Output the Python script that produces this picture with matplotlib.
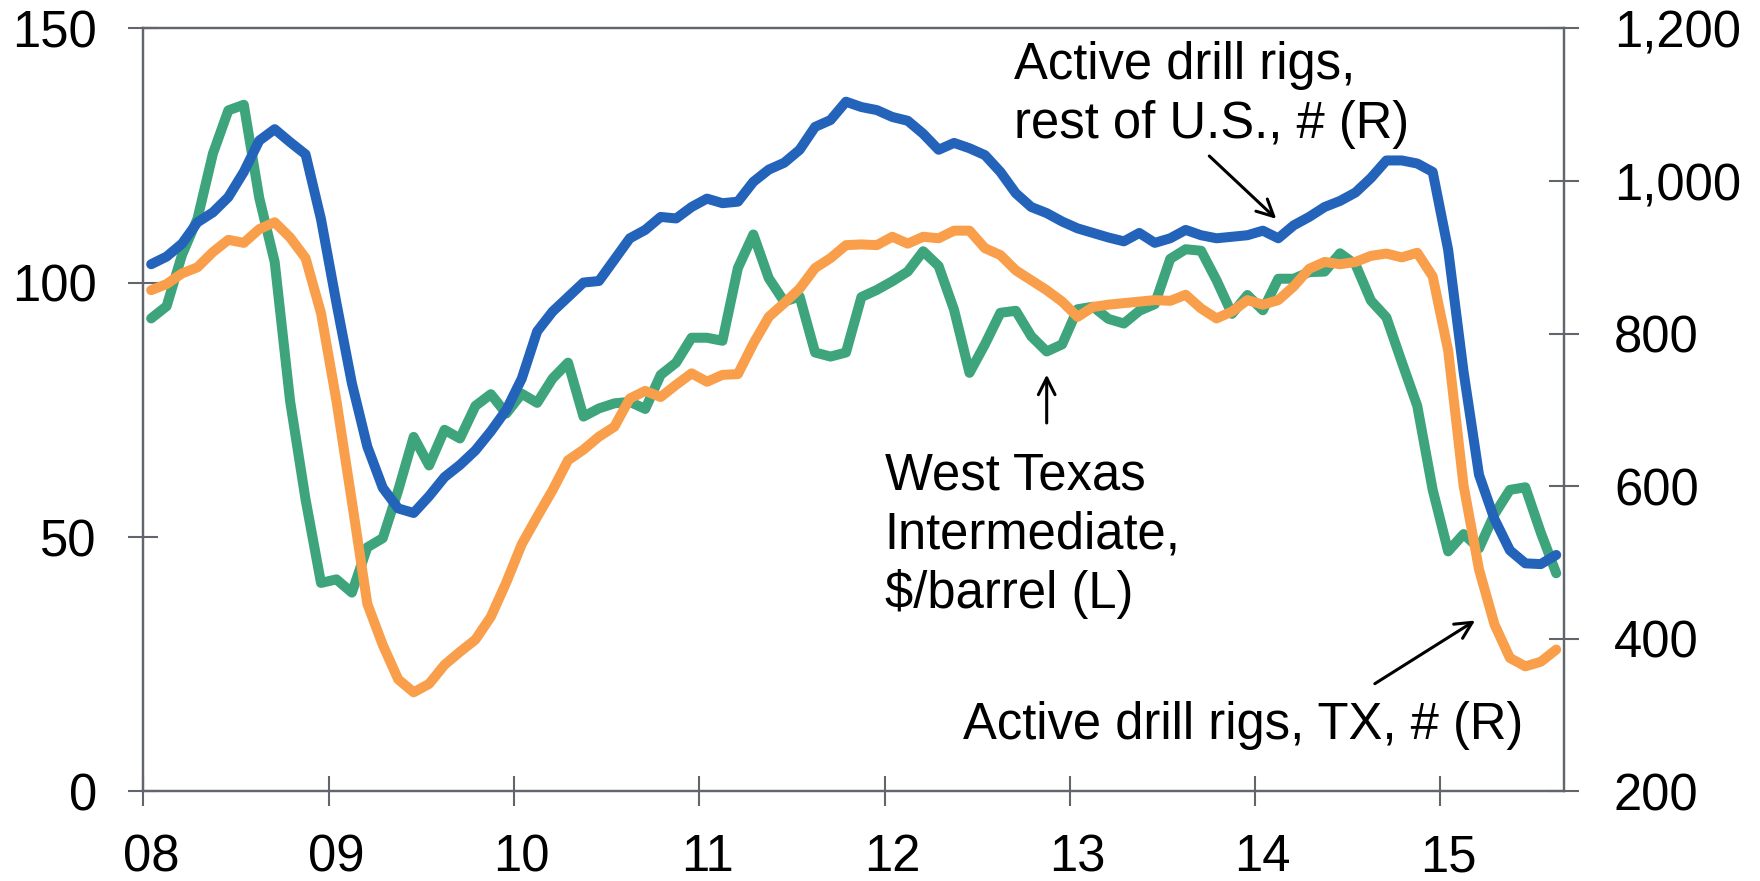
import matplotlib
matplotlib.use('Agg')
import matplotlib.pyplot as plt
from matplotlib.ticker import FuncFormatter
import numpy as np

plt.rcParams['font.family'] = ['Liberation Sans', 'DejaVu Sans']

# monthly, Jan 2008 .. Aug 2015
years = ['08', '09', '10', '11', '12', '13', '14', '15']

# West Texas Intermediate, $/barrel (left axis)
wti = [93.0, 95.4, 105.5, 112.6, 125.4, 133.9, 135.0, 116.7, 104.1, 76.7, 57.4, 41.0,
       41.7, 39.1, 48.0, 49.8, 59.2, 69.7, 64.1, 71.1, 69.4, 75.8, 78.1, 74.3,
       78.2, 76.4, 81.2, 84.3, 73.7, 75.3, 76.3, 76.6, 75.2, 81.9, 84.3, 89.2,
       89.2, 88.6, 102.9, 109.5, 100.9, 96.3, 97.3, 86.3, 85.5, 86.3, 97.2, 98.6,
       100.3, 102.2, 106.2, 103.3, 94.7, 82.3, 87.9, 94.1, 94.5, 89.5, 86.5, 87.9,
       94.8, 95.3, 92.9, 92.0, 94.5, 95.8, 104.7, 106.6, 106.3, 100.5, 93.9, 97.6,
       94.6, 100.8, 100.8, 102.1, 102.2, 105.8, 103.6, 96.5, 93.2, 84.4, 75.8, 59.3,
       47.2, 50.6, 47.8, 54.5, 59.3, 59.8, 50.9, 42.9]

# active drill rigs, rest of U.S. (right axis)
rigs_rest = [891, 901, 918, 946, 959, 979, 1012, 1053, 1068, 1051, 1035, 950,
             840, 735, 652, 598, 571, 565, 587, 612, 628, 647, 672, 700,
             741, 803, 829, 848, 867, 869, 897, 925, 936, 953, 951, 966,
             977, 971, 973, 999, 1015, 1024, 1041, 1071, 1080, 1104, 1097, 1093,
             1084, 1079, 1062, 1041, 1050, 1043, 1034, 1012, 984, 966, 958, 947,
             938, 932, 926, 921, 932, 919, 925, 936, 929, 925, 927, 929,
             935, 925, 942, 953, 966, 974, 985, 1004, 1027, 1027, 1023, 1012,
             910, 750, 615, 557, 516, 499, 498, 510]

# active drill rigs, Texas (right axis)
rigs_tx = [857, 865, 879, 887, 907, 923, 919, 937, 946, 926, 899, 827,
           712, 580, 446, 392, 347, 330, 341, 366, 383, 399, 429, 474,
           524, 560, 595, 634, 648, 665, 678, 715, 725, 717, 733, 748,
           737, 746, 747, 787, 822, 840, 859, 886, 899, 916, 917, 916,
           927, 918, 927, 925, 935, 935, 912, 903, 883, 870, 857, 842,
           822, 835, 838, 840, 842, 844, 843, 851, 833, 820, 829, 844,
           838, 844, 862, 885, 894, 891, 894, 902, 905, 900, 906, 875,
           778, 601, 491, 419, 375, 364, 370, 386]

green = '#3DA47C'
blue = '#2463BA'
orange = '#F99F4B'
gray = '#62656B'

fig = plt.figure(figsize=(17.6, 8.81), dpi=100)
ax = fig.add_axes([0.0815, 0.1016, 0.8071, 0.8661])
ax2 = ax.twinx()

x = np.arange(len(wti)) + 0.5
lw = 7.2
ax2.plot(x, rigs_rest, color=blue, lw=lw, solid_joinstyle='round', solid_capstyle='round', zorder=3)
ax2.plot(x, rigs_tx, color=orange, lw=lw, solid_joinstyle='round', solid_capstyle='round', zorder=2)
ax.plot(x, wti, color=green, lw=lw, solid_joinstyle='round', solid_capstyle='round')
ax.set_zorder(ax2.get_zorder() - 1)
ax.patch.set_visible(False)
ax2.patch.set_visible(False)

ax.set_xlim(0, len(wti))
ax.set_ylim(0, 150)
ax2.set_ylim(200, 1200)
ax.set_yticks([0, 50, 100, 150])
ax2.set_yticks([200, 400, 600, 800, 1000, 1200])
ax2.yaxis.set_major_formatter(FuncFormatter(lambda v, p: '{:,.0f}'.format(v)))

# year ticks at boundaries, labels on first month of each year
ax.set_xticks(np.arange(len(years)) * 12)
ax.set_xticklabels([])
ax.set_xticks(np.arange(len(years)) * 12 + 0.5, minor=True)
ax.set_xticklabels(years, minor=True)

fs = 36.5
for a in (ax, ax2):
    for s in a.spines.values():
        s.set_color(gray)
        s.set_linewidth(1.6)
    a.tick_params(which='major', direction='inout', length=22, width=1.5, color=gray,
                  labelsize=fs, pad=25)
ax.tick_params(axis='y', pad=22.5)
ax.tick_params(axis='x', which='minor', length=0, pad=30, labelsize=fs)

ax.text(56.4, 147.5, 'Active drill rigs,\nrest of U.S., # (R)', fontsize=fs,
        ha='left', va='top', linespacing=1.25)
ax.annotate('', xy=(73.5, 112.2), xytext=(68.9, 125.3),
            arrowprops=dict(arrowstyle='->', lw=2.2, color='black', mutation_scale=30))

ax.text(48.0, 66.8, 'West Texas\nIntermediate,\n$/barrel (L)', fontsize=fs,
        ha='left', va='top', linespacing=1.25)
ax.annotate('', xy=(58.5, 82.5), xytext=(58.5, 71.9),
            arrowprops=dict(arrowstyle='->', lw=2.2, color='black', mutation_scale=30))

ax.text(53.1, 17.7, 'Active drill rigs, TX, # (R)', fontsize=fs, ha='left', va='top')
ax.annotate('', xy=(86.4, 33.9), xytext=(79.6, 20.9),
            arrowprops=dict(arrowstyle='->', lw=2.2, color='black', mutation_scale=30))

fig.savefig('out.png', dpi=100)
